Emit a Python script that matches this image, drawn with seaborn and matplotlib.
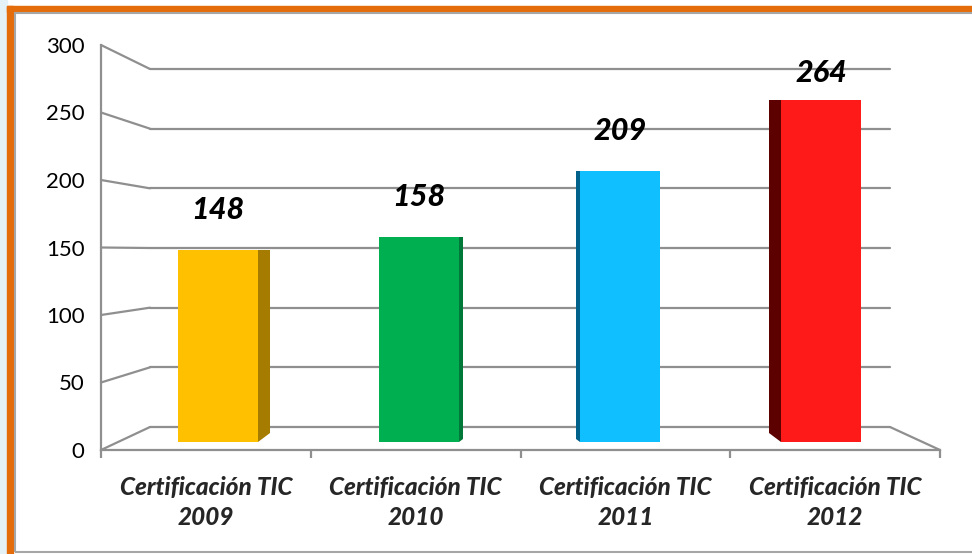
import numpy as np
import pandas as pd
import matplotlib
matplotlib.use("Agg")
import matplotlib.pyplot as plt
import seaborn as sns
from matplotlib.patches import Polygon, Rectangle

# Data
categories = ["Certificación TIC\n2009", "Certificación TIC\n2010",
              "Certificación TIC\n2011", "Certificación TIC\n2012"]
values = [148, 158, 209, 264]
front_colors = ["#FFC000", "#00B050", "#0FBFFF", "#FF1A1A"]
side_colors = ["#A67C00", "#00783A", "#00628A", "#5C0000"]
y_ticks = [0, 50, 100, 150, 200, 250, 300]

W, H = 972, 554
GRID = "#8F8F8F"

sns.set_theme(style="white")
plt.rcParams["font.family"] = ["Lato", "DejaVu Sans"]

fig = plt.figure(figsize=(W / 100, H / 100), dpi=100)
fig.patch.set_facecolor("white")


# pixel box (origin top-left) -> figure fraction rect
def rect(x0, y0, x1, y1):
    return [x0 / W, 1 - y1 / H, (x1 - x0) / W, (y1 - y0) / H]


# frame decoration
fig.patches.append(Rectangle((0, 0), 7 / W, 1, transform=fig.transFigure, color="#E4F2F7", zorder=0))
fig.patches.append(Rectangle((7 / W, 0), 6 / W, 1 - 6 / H, transform=fig.transFigure, color="#E46C0A"))
fig.patches.append(Rectangle((7 / W, 1 - 12 / H), 1, 6 / H, transform=fig.transFigure, color="#E46C0A"))
fig.patches.append(Rectangle((14.5 / W, 1 - 551.5 / H), 1, 539 / H, transform=fig.transFigure,
                             fill=False, edgecolor="#A6A6A6", lw=1.5))

# three planes: back wall, front axis, bars in between
ax_back = fig.add_axes(rect(150, 69, 890, 427))
ax_front = fig.add_axes(rect(101, 45, 940, 450))
ax_bars = fig.add_axes(rect(125, 53.2, 915, 442))

for a in (ax_back, ax_front, ax_bars):
    a.patch.set_alpha(0)

# back wall gridlines
ax_back.set_xlim(0, 1)
ax_back.set_ylim(0, 300)
ax_back.axis("off")
for v in y_ticks:
    ax_back.axhline(v, color=GRID, lw=1.6, clip_on=False)

# front axis
ax_front.set_xlim(0, 4)
ax_front.set_ylim(0, 300)
for s in ("top", "right"):
    ax_front.spines[s].set_visible(False)
for s in ("left", "bottom"):
    ax_front.spines[s].set_color(GRID)
    ax_front.spines[s].set_linewidth(1.6)
ax_front.set_yticks(y_ticks)
ax_front.set_yticklabels([str(v) for v in y_ticks], fontsize=16)
ax_front.set_xticks([0, 1, 2, 3, 4])
ax_front.set_xticklabels([])
ax_front.set_xticks([0.5, 1.5, 2.5, 3.5], minor=True)
ax_front.set_xticklabels(categories, minor=True, fontsize=17.5, fontweight="black",
                         fontstyle="italic", linespacing=1.35)
ax_front.tick_params(axis="both", which="major", length=6, width=1.6, color=GRID, direction="out")
ax_front.tick_params(axis="y", pad=6, colors="black")
ax_front.tick_params(axis="y", color=GRID)
ax_front.tick_params(axis="x", which="minor", length=0, pad=19)
ax_front.tick_params(axis="x", which="major", bottom=True)

# connectors between front axis and back wall
inv = ax_back.transData.inverted()
xb0, xb1 = ax_back.get_xlim()
for v in y_ticks:
    pa = inv.transform(ax_front.transData.transform((0, v)))
    ax_back.plot([pa[0], xb0], [pa[1], v], color=GRID, lw=1.6, clip_on=False)
pr = inv.transform(ax_front.transData.transform((4, 0)))
ax_back.plot([xb1, pr[0]], [0, pr[1]], color=GRID, lw=1.6, clip_on=False)

# bars
df = pd.DataFrame({"cat": categories, "value": values})
sns.barplot(data=df, x="cat", y="value", hue="cat", palette=front_colors, width=0.4,
            saturation=1, legend=False, ax=ax_bars)
ax_bars.set_xlim(-0.4627, 3.4677)
ax_bars.set_ylim(0, 300)
ax_bars.axis("off")

for i, p in enumerate(ax_bars.patches[:len(values)]):
    p.set_edgecolor("none")
    x0, w, top = p.get_x(), p.get_width(), p.get_height()
    c = x0 + w / 2
    dx = -0.04 * (c - 1.5)
    edge = x0 + w if dx > 0 else x0
    rise = abs(dx) * 201 * 0.75 / 1.296
    side = Polygon([(edge, 0), (edge, top), (edge + dx, top), (edge + dx, rise)],
                   closed=True, facecolor=side_colors[i], edgecolor="none", zorder=p.get_zorder())
    ax_bars.add_patch(side)
    ax_bars.text(c, min(top + 31, 285), str(values[i]), ha="center", va="center",
                 fontsize=22, fontweight="black", fontstyle="italic", color="black")

fig.savefig("out.png", dpi=100)
